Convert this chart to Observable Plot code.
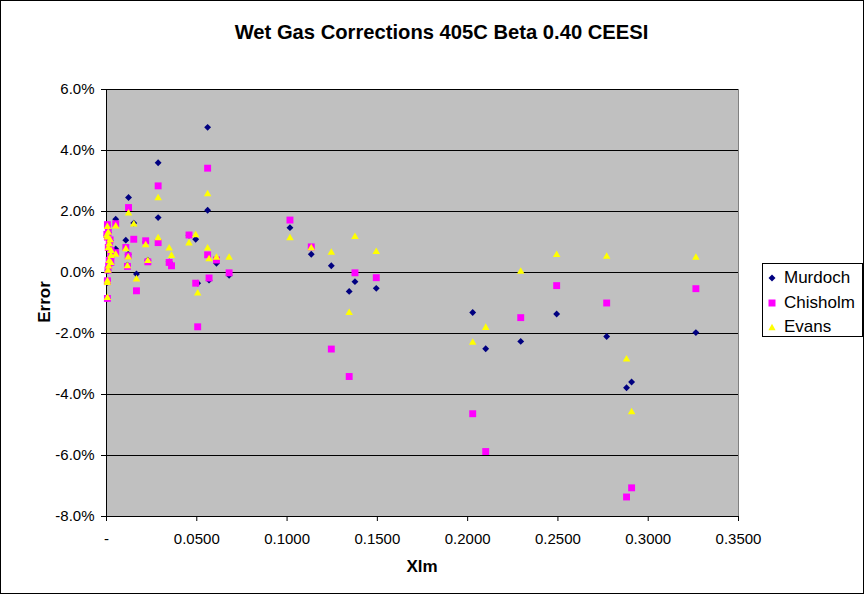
<!DOCTYPE html>
<html>
<head>
<meta charset="utf-8">
<script src="https://cdn.jsdelivr.net/npm/d3@7"></script>
<script src="https://cdn.jsdelivr.net/npm/@observablehq/plot@0.6"></script>
<style>
  html, body { margin: 0; padding: 0; background: #fff; }
  #wrap { position: relative; width: 864px; height: 594px; overflow: hidden; font-family: "Liberation Sans", Arial, sans-serif; color: #000; }
  #frame { position: absolute; left: 0; top: 0; width: 862px; height: 592px; border: 1px solid #000; pointer-events: none; }
  #title { position: absolute; left: 0; width: 883px; top: 21px; text-align: center; font-weight: bold; font-size: 20.2px; white-space: nowrap; }
  #xlabel { position: absolute; left: 322px; width: 200px; top: 557px; text-align: center; font-weight: bold; font-size: 17px; }
  #ylabel { position: absolute; left: 45px; top: 302px; transform: translate(-50%, -50%) rotate(-90deg); font-weight: bold; font-size: 17px; white-space: nowrap; }
  #legend { position: absolute; left: 762px; top: 263px; width: 99px; height: 72px; border: 1px solid #000; background: #fff; }
  .lrow { position: absolute; left: 0; height: 20px; font-size: 17px; line-height: 20px; white-space: nowrap; }
  .lrow svg { position: absolute; left: 5px; top: 4px; }
  .lrow span { position: absolute; left: 21px; top: 0; }
  #chart { position: absolute; left: 0; top: 0; }
</style>
</head>
<body>
<div id="wrap">
  <div id="chart"></div>
  <div id="title">Wet Gas Corrections 405C Beta 0.40 CEESI</div>
  <div id="xlabel">Xlm</div>
  <div id="ylabel">Error</div>
  <div id="legend"></div>
  <div id="frame"></div>
</div>
<script>
// Xlm values (shared by the three correction series)
const xlm = [
  0.0005, 0.0010, 0.0005, 0.0015, 0.0020, 0.0025, 0.0025, 0.0015, 0.0024, 0.0008,
  0.0005, 0.0005, 0.0005, 0.0010, 0.0002, 0.0012,
  0.0051, 0.0051, 0.0107, 0.0122, 0.0120, 0.0116, 0.0151, 0.0166, 0.0217, 0.0229,
  0.0286, 0.0286, 0.0347, 0.0360, 0.0457, 0.0494, 0.0505, 0.0560, 0.0560, 0.0568,
  0.0609, 0.0679,
  0.1016, 0.1134, 0.1245, 0.1344, 0.1376, 0.1494,
  0.2028, 0.2100, 0.2294, 0.2493, 0.2770, 0.2880, 0.2908, 0.3264
];
// Error (%) per series
const murdoch = [
  1.55, 1.30, 1.15, 0.93, 1.05, 0.71, 0.55, 0.38, 0.30, 0.06,
  -0.27, -0.33, -0.85, 0.80, 1.22, 0.20,
  1.75, 0.77, 1.06, 2.46, 0.60, 0.24, 1.62, -0.05, 1.00, 0.40,
  3.60, 1.80, 0.35, 0.25, 1.22, 1.09, -0.35, 4.76, 2.04, -0.25,
  0.30, -0.09,
  1.47, 0.60, 0.22, -0.62, -0.30, -0.52,
  -1.31, -2.50, -2.26, -1.36, -2.10, -3.78, -3.59, -1.97
];
const chisholm = [
  1.57, 1.32, 1.16, 0.95, 1.07, 0.72, 0.56, 0.40, 0.33, 0.08,
  -0.27, -0.30, -0.85, 0.82, 1.25, 0.22,
  1.60, 0.65, 0.82, 2.13, 0.55, 0.20, 1.09, -0.60, 1.04, 0.35,
  2.84, 0.98, 0.33, 0.22, 1.23, -0.35, -1.78, 3.42, 0.58, -0.18,
  0.41, -0.01,
  1.72, 0.84, -2.51, -3.41, -0.01, -0.17,
  -4.63, -5.87, -1.48, -0.43, -1.00, -7.36, -7.06, -0.53
];
const evans = [
  1.50, 1.31, 1.15, 0.93, 1.06, 0.71, 0.55, 0.38, 0.32, 0.06,
  -0.28, -0.34, -0.83, 0.80, 1.22, 0.20,
  1.51, 0.59, 0.77, 1.94, 0.50, 0.21, 1.58, -0.22, 0.90, 0.38,
  2.44, 1.13, 0.79, 0.55, 0.96, 1.23, -0.68, 2.57, 0.79, 0.44,
  0.49, 0.49,
  1.13, 0.80, 0.65, -1.32, 1.17, 0.68,
  -2.30, -1.81, 0.03, 0.58, 0.52, -2.85, -4.58, 0.49
];
const seriesNames = ["Murdoch", "Chisholm", "Evans"];
const seriesColors = ["#000080", "#FF00FF", "#FFFF00"];
const xTicks = [0, 0.05, 0.10, 0.15, 0.20, 0.25, 0.30, 0.35];
const yTicks = [-8, -6, -4, -2, 0, 2, 4, 6];

const seriesValues = [murdoch, chisholm, evans];
const table = [];
seriesNames.forEach((name, s) => {
  xlm.forEach((x, i) => table.push({series: name, x, y: seriesValues[s][i]}));
});

const symbols = {Murdoch: "diamond2", Chisholm: "square", Evans: "triangle"};
const radii = {Murdoch: 3.1, Chisholm: 3.9, Evans: 2.8};

const chart = Plot.plot({
  width: 864,
  height: 594,
  marginLeft: 106,
  marginRight: 126,
  marginTop: 89,
  marginBottom: 78,
  style: {fontFamily: "'Liberation Sans', Arial, sans-serif", fontSize: "15px", color: "#000", background: "transparent"},
  x: {domain: [0, 0.35]},
  y: {domain: [-8, 6]},
  marks: [
    Plot.frame({fill: "#c0c0c0", stroke: "#808080"}),
    Plot.ruleY(yTicks, {stroke: "#000", strokeWidth: 1}),
    Plot.ruleX([0], {stroke: "#000"}),
    Plot.axisX({ticks: xTicks, tickFormat: d => d === 0 ? "-" : d.toFixed(4), tickSize: 5, tickPadding: 12, label: null, stroke: "#000", fill: "#000"}),
    Plot.axisY({ticks: yTicks, tickFormat: d => d.toFixed(1) + "%", tickSize: 5, tickPadding: 7, label: null, stroke: "#000", fill: "#000"}),
    ...seriesNames.map((name, s) => Plot.dot(table.filter(d => d.series === name), {
      x: "x", y: "y", symbol: () => symbols[name], r: radii[name],
      fill: seriesColors[s], stroke: "none"
    }))
  ]
});
document.getElementById("chart").appendChild(chart);

// legend
const legend = document.getElementById("legend");
const legendShapes = [
  '<polygon points="4,0.5 7.5,4 4,7.5 0.5,4" fill="#000080"/>',
  '<rect x="0.5" y="0.5" width="7" height="7" fill="#FF00FF"/>',
  '<polygon points="4,0.8 7.6,7.2 0.4,7.2" fill="#FFFF00"/>'
];
const rowTops = [4, 29, 53];
seriesNames.forEach((name, i) => {
  const row = document.createElement("div");
  row.className = "lrow";
  row.style.top = rowTops[i] + "px";
  row.innerHTML = '<svg width="8" height="8" viewBox="0 0 8 8" style="top:6px">' + legendShapes[i] + '</svg><span>' + name + '</span>';
  legend.appendChild(row);
});
</script>
</body>
</html>
